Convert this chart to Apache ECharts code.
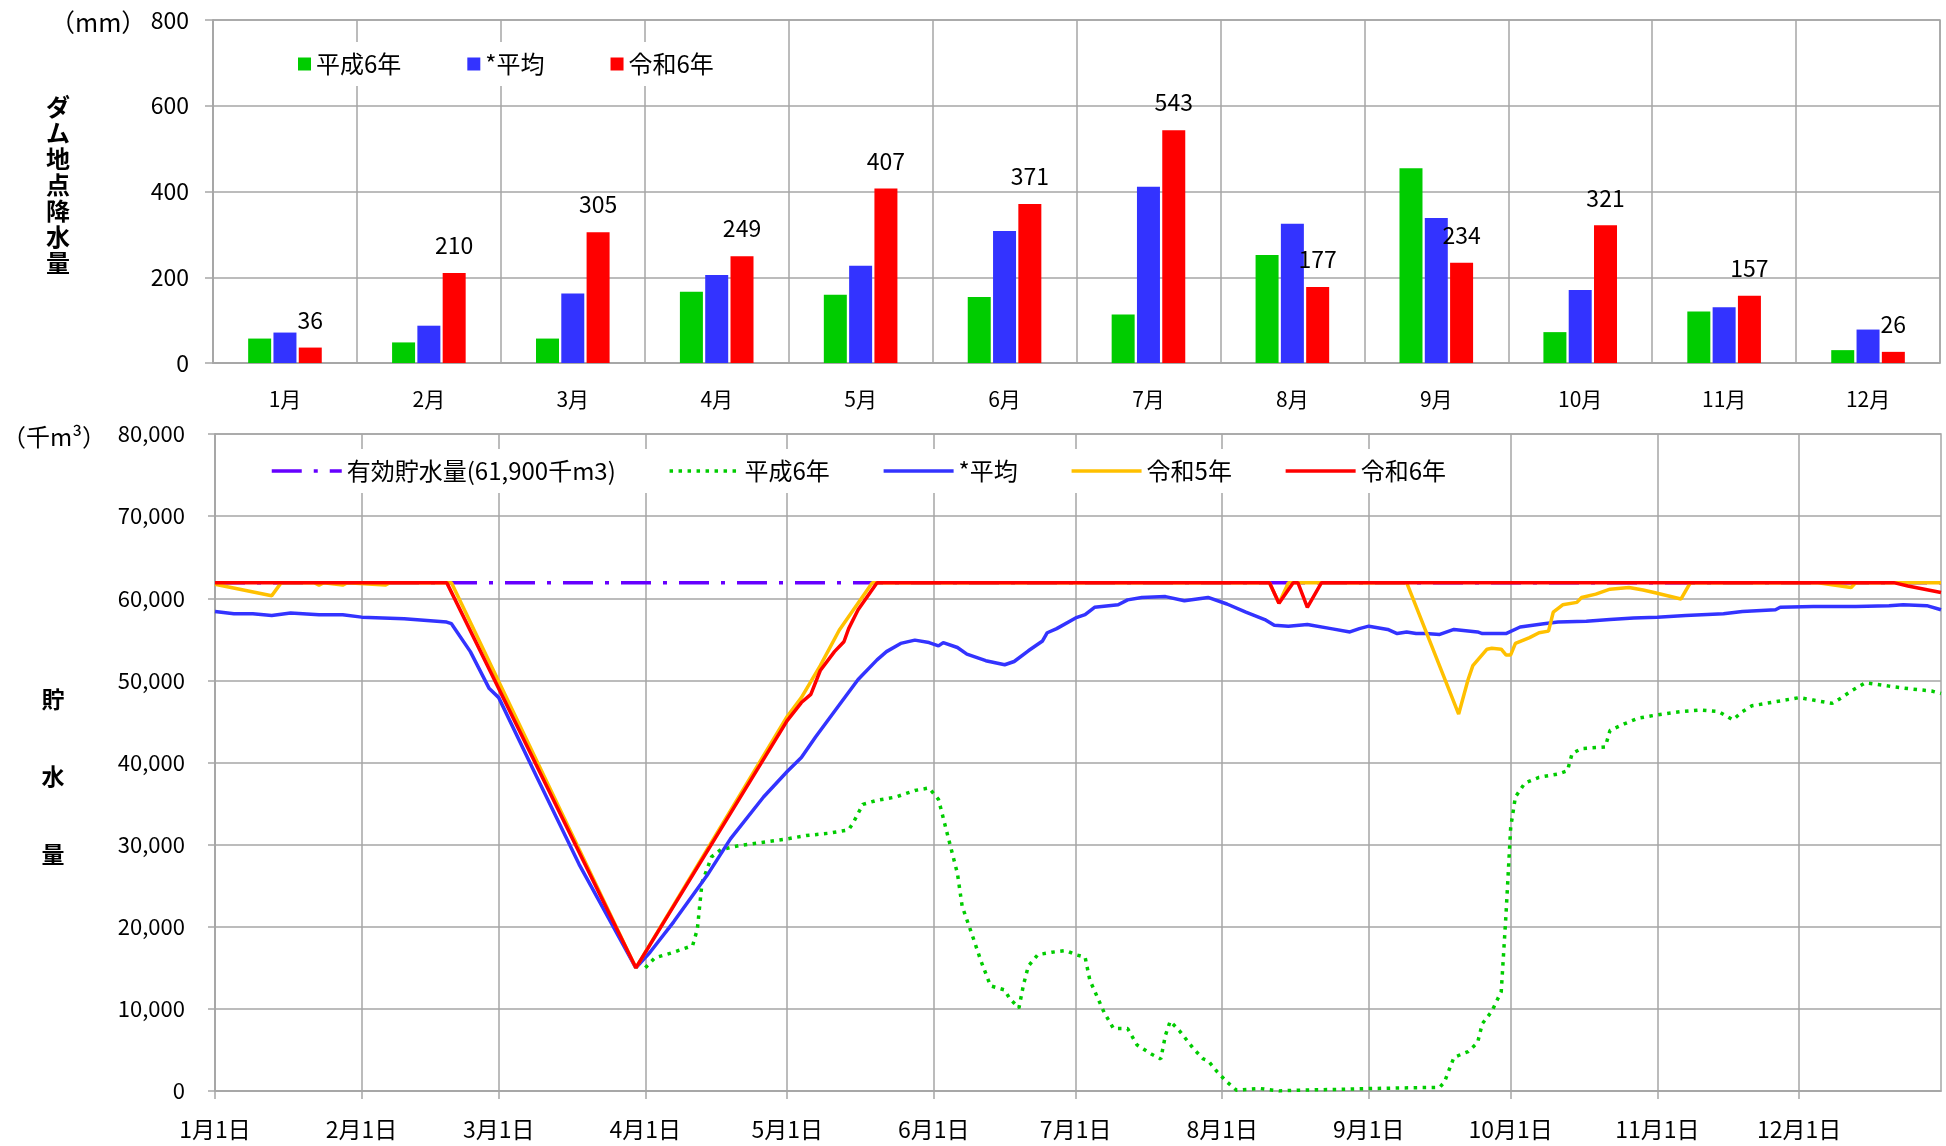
<!DOCTYPE html>
<html>
<head>
<meta charset="utf-8">
<script src="https://cdn.jsdelivr.net/npm/echarts@6/dist/echarts.min.js"></script>
<style>
html,body{margin:0;padding:0;background:#fff;}
#c{width:1946px;height:1146px;}
</style>
</head>
<body>
<div id="c"></div>
<script>
// ---------- Top chart: monthly rainfall (mm) ----------
const months = ['1月','2月','3月','4月','5月','6月','7月','8月','9月','10月','11月','12月'];
const rainH6  = [57, 48, 57, 166, 159, 154, 113, 252, 454, 72, 120, 30];
const rainAvg = [71, 87, 162, 205, 227, 308, 411, 325, 338, 170, 130, 78];
const rainR6  = [36, 210, 305, 249, 407, 371, 543, 177, 234, 321, 157, 26];

// ---------- Bottom chart: storage (千m3), [dayIndex, value] ----------
const monthDays = [31,29,31,30,31,30,31,31,30,31,30,31];
const monthStarts = [0,31,60,91,121,152,182,213,244,274,305,335];

const effective = [[0,61900],[365,61900]];

const storH6 = [[91,15000],[93,16200],[97,16900],[101,17700],[102,19700],[103,25400],[105,28500],[107,29400],[111,29900],[116,30300],[121,30700],[125,31100],[130,31400],[134,31800],[135,32700],[137,34900],[140,35400],[144,35800],[148,36600],[151,36900],[153,35500],[155,31000],[157,26500],[158,22500],[160,19200],[162,15800],[164,12800],[167,12300],[168,11300],[170,10100],[171,13000],[172,15200],[174,16600],[177,16900],[180,17100],[182,16600],[184,16300],[185,13500],[188,9600],[190,7600],[193,7600],[195,5600],[198,4500],[200,3900],[201,6800],[202,8500],[204,7300],[207,5100],[209,3900],[210,3700],[212,2300],[214,1100],[216,100],[221,300],[225,0],[229,100],[238,200],[244,300],[259,450],[260,1100],[262,4100],[265,4800],[267,5900],[268,8200],[270,9700],[272,12100],[273,21400],[274,32100],[275,35800],[277,37500],[280,38200],[284,38600],[286,39000],[287,41100],[289,41700],[294,41900],[295,43900],[298,44700],[301,45400],[305,45800],[310,46200],[314,46400],[318,46200],[321,45200],[323,46200],[325,46900],[331,47500],[335,47900],[338,47600],[342,47200],[344,47900],[346,48700],[349,49700],[354,49300],[358,49000],[363,48700],[365,48400]];

const storAvg = [[0,58400],[4,58100],[8,58100],[12,57900],[16,58200],[22,58000],[27,58000],[31,57700],[40,57500],[49,57100],[50,56900],[54,53500],[58,49000],[60,47900],[68,38300],[77,27600],[89,15000],[92,16900],[97,20600],[104,26200],[109,30700],[116,35800],[121,38900],[124,40600],[127,43100],[132,47000],[136,50100],[140,52500],[142,53500],[145,54500],[148,54900],[151,54600],[153,54200],[154,54600],[157,54000],[159,53200],[163,52400],[167,51900],[169,52300],[172,53600],[175,54800],[176,55800],[178,56300],[182,57600],[184,58000],[186,58900],[191,59200],[193,59800],[196,60100],[201,60200],[205,59700],[210,60100],[214,59300],[218,58300],[222,57400],[224,56700],[227,56600],[231,56800],[236,56300],[240,55900],[242,56300],[244,56600],[248,56200],[250,55700],[252,55900],[254,55700],[256,55700],[259,55600],[262,56200],[267,55900],[268,55700],[273,55700],[276,56500],[281,56900],[284,57100],[290,57200],[295,57400],[300,57600],[305,57700],[311,57900],[319,58100],[323,58400],[330,58600],[331,58900],[338,59000],[347,59000],[354,59100],[357,59200],[362,59100],[365,58600]];

const storR5 = [[0,61700],[12,60300],[14,61900],[21,61900],[22,61600],[23,61900],[27,61600],[28,61900],[36,61600],[37,61900],[50,61900],[89,15000],[121,45600],[124,47900],[128,51800],[132,56100],[139,61900],[223,61900],[225,59400],[227,61900],[252,61900],[263,45900],[265,50100],[266,51800],[269,53800],[270,53900],[272,53800],[273,53100],[274,53100],[275,54500],[278,55200],[280,55800],[282,56000],[283,58300],[285,59200],[288,59500],[289,60100],[292,60500],[295,61100],[299,61300],[302,61000],[305,60600],[310,59900],[312,61900],[339,61900],[346,61300],[347,61900],[365,61900]];

const storR6 = [[0,61900],[49,61900],[89,15000],[121,45100],[124,47300],[126,48300],[128,51200],[131,53500],[133,54700],[134,56300],[136,58600],[140,61900],[223,61900],[225,59400],[228,61900],[229,61900],[231,58900],[234,61900],[355,61900],[358,61500],[365,60700]];

// titles
const rainTitle = ['ダ','ム','地','点','降','水','量'];
const storTitle = ['貯','水','量'];

// day labels
const dayLabels = [];
monthDays.forEach((n, m) => { for (let d = 1; d <= n; d++) dayLabels.push((m+1) + '月' + d + '日'); });

const FONT = '"Noto Sans CJK JP", "Noto Sans", sans-serif';
const GRID = '#a6a6a6';
const C_GREEN = '#00CC00', C_BLUE = '#3333FF', C_RED = '#FF0000', C_ORANGE = '#FFC000', C_PURPLE = '#6600FF';
const isMonthStart = (i) => monthStarts.indexOf(i) >= 0;
const ZW = '\u200b';

const graphics = [
  { type: 'text', x: 50, y: 22, style: { text: '（mm）', fontSize: 25, fontFamily: FONT, fill: '#000', align: 'left', verticalAlign: 'middle' } },
  { type: 'text', x: 2, y: 437, style: { text: '（千m³）', fontSize: 24, fontFamily: FONT, fill: '#000', align: 'left', verticalAlign: 'middle' } }
];
rainTitle.forEach((ch, i) => graphics.push({ type: 'text', x: 58, y: 107 + i * 26,
  style: { text: ch, fontSize: 24, fontWeight: 'bold', fontFamily: FONT, fill: '#000', align: 'center', verticalAlign: 'middle' } }));
storTitle.forEach((ch, i) => graphics.push({ type: 'text', x: 53, y: 699 + i * 77.5,
  style: { text: ch, fontSize: 23, fontWeight: 'bold', fontFamily: FONT, fill: '#000', align: 'center', verticalAlign: 'middle' } }));

const chart = echarts.init(document.getElementById('c'));
chart.setOption({
  animation: false,
  backgroundColor: '#fff',
  textStyle: { fontFamily: FONT, color: '#000' },
  grid: [
    { left: 213, right: 6, top: 20, bottom: 783, show: true, borderColor: GRID, borderWidth: 1.5 },
    { left: 215, right: 5, top: 434, bottom: 55, show: true, borderColor: GRID, borderWidth: 1.5 }
  ],
  legend: [
    { left: 282, top: 42, data: ['平成6年','*平均','令和6年'], icon: 'rect',
      itemWidth: 13, itemHeight: 13, itemGap: 66, backgroundColor: '#fff', padding: [10, 16],
      textStyle: { fontSize: 24, color: '#000', fontFamily: FONT } },
    { left: 254, top: 449, data: ['有効貯水量(61,900千m3)', '平成6年'+ZW, '*平均'+ZW, '令和5年', '令和6年'+ZW],
      itemWidth: 70, itemHeight: 14, itemGap: 52, backgroundColor: '#fff', padding: [10, 16],
      itemStyle: { opacity: 0 }, lineStyle: { width: 3.5 },
      textStyle: { fontSize: 24, color: '#000', fontFamily: FONT } }
  ],
  xAxis: [
    { type: 'category', gridIndex: 0, data: months, boundaryGap: true,
      axisLine: { lineStyle: { color: GRID, width: 1.5 } },
      axisTick: { length: 9, lineStyle: { color: GRID, width: 1.5 } },
      axisLabel: { fontSize: 21, color: '#000', margin: 26, fontFamily: FONT },
      splitLine: { show: true, lineStyle: { color: GRID, width: 1.5 } } },
    { type: 'category', gridIndex: 1, data: dayLabels, boundaryGap: false,
      axisLine: { lineStyle: { color: GRID, width: 1.5 } },
      axisTick: { length: 8, interval: isMonthStart, lineStyle: { color: GRID, width: 1.5 } },
      axisLabel: { fontSize: 23, color: '#000', margin: 27, interval: isMonthStart, fontFamily: FONT },
      splitLine: { show: true, interval: isMonthStart, lineStyle: { color: GRID, width: 1.5 } } }
  ],
  yAxis: [
    { type: 'value', gridIndex: 0, min: 0, max: 800, interval: 200,
      axisLine: { show: true, lineStyle: { color: GRID, width: 1.5 } },
      axisTick: { show: true, length: 8, lineStyle: { color: GRID, width: 1.5 } },
      axisLabel: { fontSize: 23, color: '#000', margin: 24, fontFamily: FONT },
      splitLine: { show: true, lineStyle: { color: GRID, width: 1.5 } } },
    { type: 'value', gridIndex: 1, min: 0, max: 80000, interval: 10000,
      axisLine: { show: true, lineStyle: { color: GRID, width: 1.5 } },
      axisTick: { show: true, length: 7, lineStyle: { color: GRID, width: 1.5 } },
      axisLabel: { fontSize: 22, color: '#000', margin: 30, fontFamily: FONT,
        formatter: v => v.toLocaleString('en-US') },
      splitLine: { show: true, lineStyle: { color: GRID, width: 1.5 } } }
  ],
  series: [
    { name: '平成6年', type: 'bar', xAxisIndex: 0, yAxisIndex: 0, data: rainH6, barWidth: 23, barGap: '10%',
      itemStyle: { color: C_GREEN } },
    { name: '*平均', type: 'bar', xAxisIndex: 0, yAxisIndex: 0, data: rainAvg, barWidth: 23, barGap: '10%',
      itemStyle: { color: C_BLUE } },
    { name: '令和6年', type: 'bar', xAxisIndex: 0, yAxisIndex: 0, data: rainR6, barWidth: 23, barGap: '10%',
      itemStyle: { color: C_RED },
      label: { show: true, position: 'top', distance: 16, fontSize: 23, color: '#000', fontFamily: FONT } },

    { name: '有効貯水量(61,900千m3)', type: 'line', xAxisIndex: 1, yAxisIndex: 1, data: effective,
      symbol: 'none', lineStyle: { color: C_PURPLE, width: 3.5, type: [30, 12, 4, 12] }, itemStyle: { color: C_PURPLE } },
    { name: '平成6年'+ZW, type: 'line', xAxisIndex: 1, yAxisIndex: 1, data: storH6,
      symbol: 'none', lineStyle: { color: C_GREEN, width: 3.5, type: [3.5, 5.5] }, itemStyle: { color: C_GREEN } },
    { name: '*平均'+ZW, type: 'line', xAxisIndex: 1, yAxisIndex: 1, data: storAvg,
      symbol: 'none', lineStyle: { color: C_BLUE, width: 3.5 }, itemStyle: { color: C_BLUE } },
    { name: '令和5年', type: 'line', xAxisIndex: 1, yAxisIndex: 1, data: storR5,
      symbol: 'none', lineStyle: { color: C_ORANGE, width: 3.5 }, itemStyle: { color: C_ORANGE } },
    { name: '令和6年'+ZW, type: 'line', xAxisIndex: 1, yAxisIndex: 1, data: storR6,
      symbol: 'none', lineStyle: { color: C_RED, width: 3.5 }, itemStyle: { color: C_RED } }
  ],
  graphic: graphics
});
</script>
</body>
</html>
